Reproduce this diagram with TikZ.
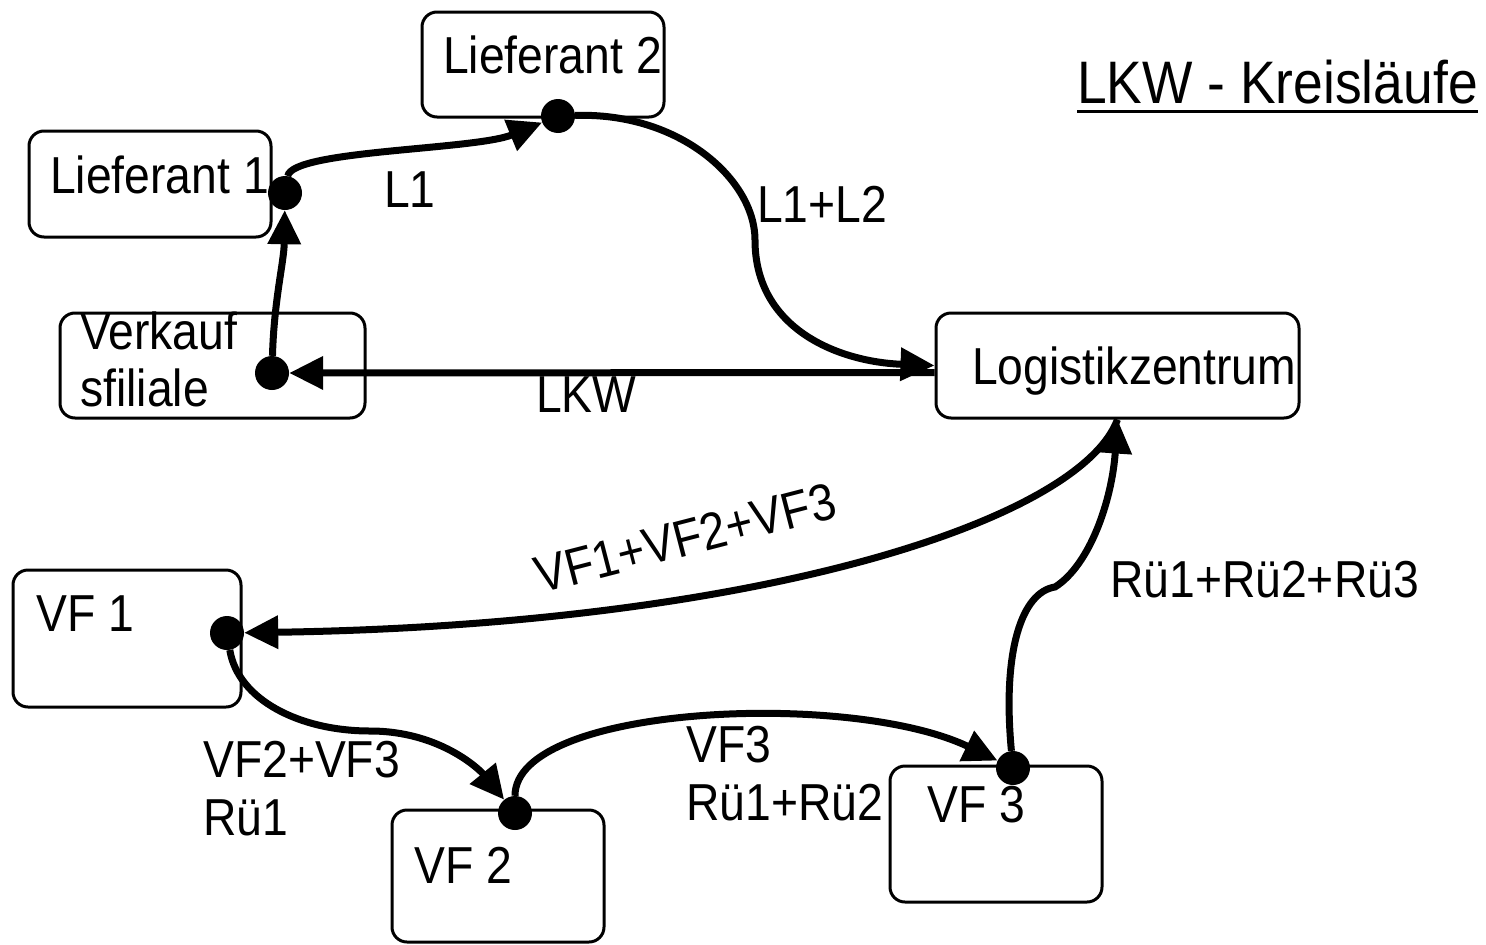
\documentclass[tikz,border=0pt]{standalone}
\usepackage{fontspec}
\setmainfont{Liberation Sans}[FakeStretch=0.89]
\usetikzlibrary{arrows.meta,calc}
\begin{document}
\begin{tikzpicture}[x=1pt,y=-1pt,
  box/.style={draw, line width=3pt, rounded corners=15pt, inner sep=0pt},
  dot/.style={circle, fill, minimum size=34pt, inner sep=0pt},
  lbl/.style={anchor=base west, inner sep=0pt, font=\fontsize{52}{58}\selectfont},
  arr/.style={line width=7pt, -{Triangle[length=34pt,width=32pt]}},
]
\path[use as bounding box, fill=white] (0,0) rectangle (1486,945);

% boxes
\node[box, minimum width=242pt, minimum height=105pt] (L2) at (543,64.5) {};
\node[box, minimum width=242pt, minimum height=106pt] (L1) at (150,184) {};
\node[box, minimum width=305pt, minimum height=105pt] (VK) at (212.5,365.5) {};
\node[box, minimum width=363pt, minimum height=105pt] (LZ) at (1117.5,365.5) {};
\node[box, minimum width=228pt, minimum height=137pt] (VF1) at (127,638.5) {};
\node[box, minimum width=212pt, minimum height=132pt] (VF2) at (498,876) {};
\node[box, minimum width=212pt, minimum height=136pt] (VF3) at (996,834) {};

% box texts
\node[lbl] (tL2) at (443,73) {Lieferant 2};
\node[lbl] (tL1) at (50,193) {Lieferant 1};
\node[lbl] (tVKa) at (80,349) {Verkauf};
\node[lbl] (tVKb) at (80,406) {sfiliale};
\node[lbl] (tLZ) at (972,384) {Logistikzentrum};
\node[lbl] (tVF1) at (36,631) {VF 1};
\node[lbl] (tVF2) at (414,883) {VF 2};
\node[lbl] (tVF3) at (927,822) {VF 3};

% title
\node[anchor=base west, inner sep=0pt, font=\fontsize{60}{66}\selectfont] (T) at (1077,103) {LKW - Kreisläufe};
\draw[line width=3pt] ($(T.base west)+(0,8)$) -- ($(T.base east)+(0,8)$);

% dots
\node[dot] (dL2) at (558,116) {};
\node[dot] (dL1) at (285,193) {};
\node[dot] (dVK) at (272,373) {};
\node[dot] (dVF1) at (227,633) {};
\node[dot] (dVF2) at (515,813) {};
\node[dot] (dVF3) at (1013,768) {};

% connectors
\draw[arr] (dVK) .. controls (274,300) and (284,262) .. (dL1);
\draw[arr] (dL1) .. controls (292,150) and (475,150) .. (dL2);
\draw[arr] (dL2) .. controls (680,112) and (755,180) .. (755,240) .. controls (755,330) and (840,362) .. (LZ.west);
\draw[arr] ($(LZ.west)+(0,7)$) -- (dVK);
\draw[arr] (LZ.south) .. controls (1080,520) and (760,625) .. (dVF1);
\draw[arr] (dVF1) .. controls (238,700) and (300,731) .. (370,731) .. controls (440,731) and (480,770) .. (dVF2);
\draw[arr] (dVF2) .. controls (515,705) and (850,690) .. (dVF3);
\draw[arr] (dVF3) .. controls (1002,650) and (1022,592) .. (1055,587) .. controls (1090,565) and (1112,500) .. (LZ.south);

% connector labels
\node[lbl] (lL1) at (384,207) {L1};
\node[lbl] (lL12) at (757,222) {L1+L2};
\node[lbl] (lLKW) at (536,412) {LKW};
\node[lbl, rotate=14.5] (lVF) at (540,594) {VF1+VF2+VF3};
\node[lbl] (lRu) at (1110,597) {Rü1+Rü2+Rü3};
\node[lbl] (lA1) at (203,777) {VF2+VF3};
\node[lbl] (lA2) at (203,835) {Rü1};
\node[lbl] (lB1) at (686,762) {VF3};
\node[lbl] (lB2) at (686,820) {Rü1+Rü2};
\end{tikzpicture}
\end{document}
